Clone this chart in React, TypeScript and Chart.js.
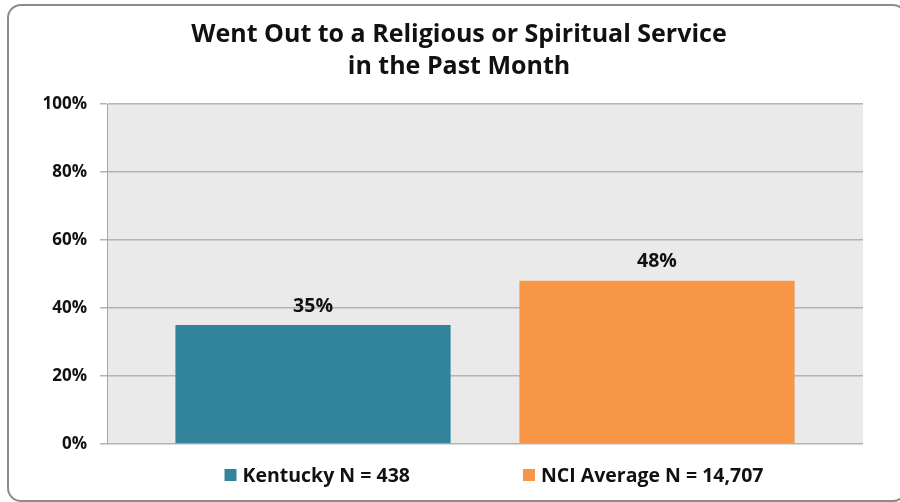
import React, { useEffect, useRef } from "react";
import { Chart, registerables } from "chart.js";

Chart.register(...registerables);

const categories: string[] = [""];
const seriesLabels: string[] = ["Kentucky N = 438", "NCI Average N = 14,707"];
const kentuckyValues: number[] = [35];
const nciValues: number[] = [48];
const seriesColors: string[] = ["#31849B", "#F79646"];
const yTickValues: number[] = [0, 20, 40, 60, 80, 100];
const titleLines: string[] = [
  "Went Out to a Religious or Spiritual Service",
  "in the Past Month",
];

const FONT = "'Open Sans', 'DejaVu Sans', sans-serif";

const plotBgPlugin = {
  id: "plotBg",
  afterLayout(chart: any) {
    // let the y tick labels extend into the left padding without being clipped
    if (chart.scales && chart.scales.y) chart.scales.y.left = 0;
  },
  beforeDraw(chart: any) {
    const { ctx, chartArea } = chart;
    if (!chartArea) return;
    ctx.save();
    ctx.fillStyle = "#EAEAEA";
    ctx.fillRect(chartArea.left, chartArea.top, chartArea.right - chartArea.left, chartArea.bottom - chartArea.top);
    ctx.restore();
  },
};

const valueLabelPlugin = {
  id: "valueLabels",
  afterDatasetsDraw(chart: any) {
    const { ctx } = chart;
    ctx.save();
    ctx.font = `bold 19.5px ${FONT}`;
    ctx.fillStyle = "#111";
    ctx.textAlign = "center";
    ctx.textBaseline = "middle";
    chart.data.datasets.forEach((ds: any, i: number) => {
      const meta = chart.getDatasetMeta(i);
      meta.data.forEach((el: any, j: number) => {
        const v = ds.data[j];
        ctx.fillText(`${v}%`, el.x, el.y - 19);
      });
    });
    ctx.restore();
  },
};

const customLegendPlugin = {
  id: "customLegend",
  afterDraw(chart: any) {
    const { ctx, chartArea } = chart;
    const box = 12;
    const boxGap = 6;
    const itemGap = 113;
    ctx.save();
    ctx.font = `bold 19.5px ${FONT}`;
    ctx.textBaseline = "middle";
    ctx.textAlign = "left";
    const items = chart.data.datasets.map((ds: any) => ({
      label: ds.label as string,
      color: ds.backgroundColor as string,
      w: ctx.measureText(ds.label).width,
    }));
    let total = 0;
    items.forEach((it: any, i: number) => {
      total += box + boxGap + it.w + (i > 0 ? itemGap : 0);
    });
    const cx = (chartArea.left + chartArea.right) / 2 + 9;
    const cy = chartArea.bottom + 31;
    let x = cx - total / 2;
    items.forEach((it: any) => {
      ctx.fillStyle = it.color;
      ctx.fillRect(x, cy - box / 2, box, box);
      ctx.fillStyle = "#111";
      ctx.fillText(it.label, x + box + boxGap, cy + 1);
      x += box + boxGap + it.w + itemGap;
    });
    ctx.restore();
  },
};

export default function App() {
  const canvasRef = useRef<HTMLCanvasElement | null>(null);

  useEffect(() => {
    document.body.style.margin = "0";
    const canvas = canvasRef.current;
    if (!canvas) return;
    const chart = new Chart(canvas, {
      type: "bar",
      data: {
        labels: categories,
        datasets: [
          {
            label: seriesLabels[0],
            data: kentuckyValues,
            backgroundColor: seriesColors[0],
            categoryPercentage: 0.91,
            barPercentage: 0.8,
          },
          {
            label: seriesLabels[1],
            data: nciValues,
            backgroundColor: seriesColors[1],
            categoryPercentage: 0.91,
            barPercentage: 0.8,
          },
        ],
      },
      options: {
        animation: false,
        responsive: false,
        devicePixelRatio: 1,
        layout: { padding: { left: 55, right: 37, top: 0, bottom: 58 } },
        plugins: {
          legend: { display: false },
          tooltip: { enabled: false },
          title: {
            display: true,
            text: titleLines,
            color: "#111",
            font: { family: FONT, size: 25, weight: "bold", lineHeight: 1.28 },
            padding: { top: 19, bottom: 21 },
          },
        },
        scales: {
          x: { display: false },
          y: {
            min: 0,
            max: 100,
            afterFit(scale: any) {
              scale.width = 52;
            },
            afterBuildTicks(scale: any) {
              scale.ticks = yTickValues.map((v) => ({ value: v }));
            },
            ticks: {
              padding: 13,
              color: "#111",
              font: { family: FONT, size: 17, weight: "bold" },
              callback: (v: any) => `${v}%`,
            },
            grid: {
              color: "#B4B4B4",
              lineWidth: 1.5,
              tickLength: 7,
              drawTicks: true,
            },
            border: { display: true, color: "#A6A6A6", width: 1 },
          },
        },
      },
      plugins: [plotBgPlugin, valueLabelPlugin, customLegendPlugin],
    });
    return () => chart.destroy();
  }, []);

  return (
    <div style={{ position: "relative", width: 900, height: 502, overflow: "hidden", background: "#fff" }}>
      <div
        style={{
          position: "absolute",
          left: 7,
          top: 4,
          width: 896,
          height: 494,
          border: "2px solid #8C8C8C",
          borderRadius: 14,
          boxSizing: "content-box",
        }}
      />
      <canvas ref={canvasRef} width={900} height={502} style={{ position: "absolute", left: 0, top: 0, width: 900, height: 502 }} />
    </div>
  );
}
